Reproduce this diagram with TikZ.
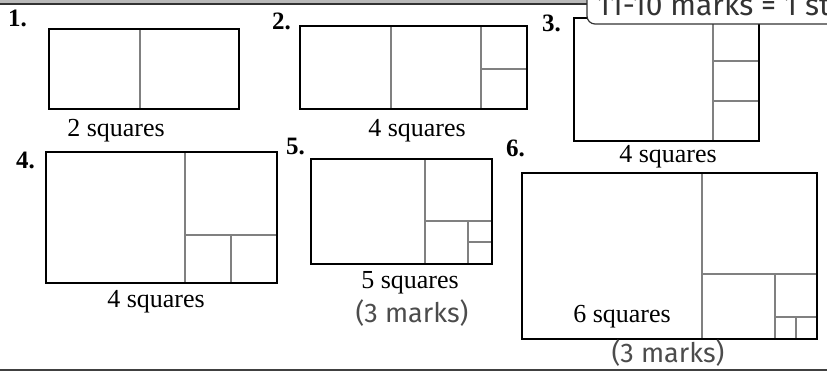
\documentclass[tikz,border=0pt]{standalone}
\usepackage{fontspec}
\setmainfont{Liberation Serif}
\newfontfamily\handfont{Fira Sans}
\begin{document}
\begin{tikzpicture}[x=1pt,y=-1pt,
  outer/.style={line width=2.9pt},
  inner/.style={line width=2.5pt,gray},
  num/.style={anchor=base west,inner sep=0pt,font=\fontsize{25}{29}\selectfont\bfseries},
  caption/.style={anchor=base,inner sep=0pt,font=\fontsize{26}{30}\selectfont},
  marks/.style={anchor=base,inner sep=0pt,font=\handfont\fontsize{27}{31}\selectfont,black!70}]
 \useasboundingbox (0,0) rectangle (827,371);
 % page rules
 \fill[gray!55] (0,0) rectangle (827,3);
 \draw[line width=2.4pt,black!80] (0,4) -- (827,4);
 \draw[line width=2.4pt,black!75] (0,370) -- (827,370);
 % 1
 \draw[inner] (140,29) -- (140,109);
 \draw[outer] (49,29) rectangle (239,109);
 \node[num] (n1) at (8,27) {1.};
 \node[caption] (c1) at (116,137) {2 squares};
 % 2
 \draw[inner] (391,26) -- (391,109);
 \draw[inner] (481,26) -- (481,109);
 \draw[inner] (481,69) -- (527,69);
 \draw[outer] (300,26) rectangle (527,109);
 \node[num] (n2) at (272,30) {2.};
 \node[caption] (c2) at (417,137) {4 squares};
 % 3
 \draw[inner] (713,18) -- (713,141);
 \draw[inner] (713,61) -- (759,61);
 \draw[inner] (713,101) -- (759,101);
 \draw[outer] (574,18) rectangle (759,141);
 \node[num] (n3) at (542,32) {3.};
 \node[caption] (c3) at (668,163) {4 squares};
 % 4
 \draw[inner] (185,152) -- (185,283);
 \draw[inner] (185,235) -- (277,235);
 \draw[inner] (231,235) -- (231,283);
 \draw[outer] (46,152) rectangle (277,283);
 \node[num] (n4) at (16,169) {4.};
 \node[caption] (c4) at (156,307) {4 squares};
 % 5
 \draw[inner] (425,159) -- (425,264);
 \draw[inner] (425,221) -- (492,221);
 \draw[inner] (468,221) -- (468,264);
 \draw[inner] (468,242) -- (492,242);
 \draw[outer] (311,159) rectangle (492,264);
 \node[num] (n5) at (286,155) {5.};
 \node[caption] (c5) at (410,288) {5 squares};
 \node[marks] (m5) at (412,322) {(3 marks)};
 % 6
 \draw[inner] (702,173) -- (702,339);
 \draw[inner] (702,274) -- (817,274);
 \draw[inner] (775,274) -- (775,339);
 \draw[inner] (775,317) -- (817,317);
 \draw[inner] (796,317) -- (796,339);
 \draw[outer] (522,173) rectangle (817,339);
 \node[num] (n6) at (506,157) {6.};
 \node[caption] (c6) at (622,323) {6 squares};
 \node[marks] (m6) at (668,362) {(3 marks)};
 % score box, cut by the page edge
 \draw[draw=black!80,fill=white,line width=1.2pt,rounded corners=8pt] (900,-30) -- (587,-30) -- (587,24) -- (900,24);
 \node[anchor=base west,inner sep=0pt,font=\handfont\fontsize{30}{34}\selectfont,black!80] (score) at (597,16) {11-10 marks = 1 star};
\end{tikzpicture}
\end{document}
